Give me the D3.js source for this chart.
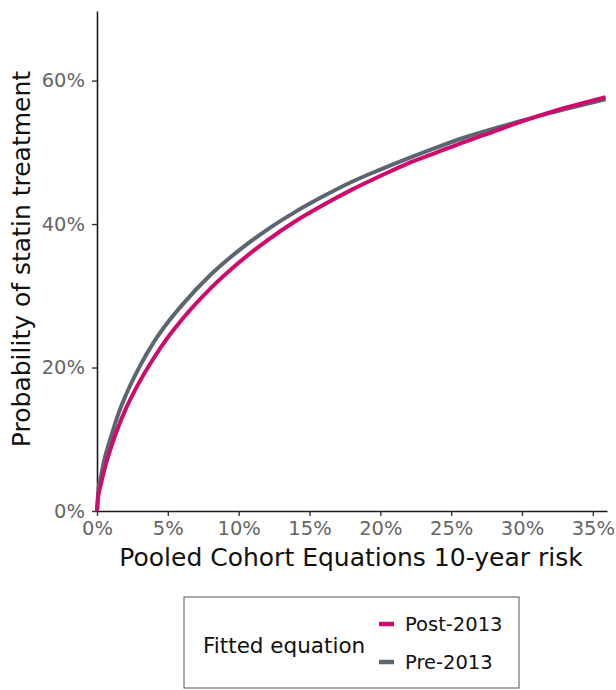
<!DOCTYPE html>
<html><head><meta charset="utf-8">
<script src="https://cdn.jsdelivr.net/npm/d3@7"></script>
<style>body{margin:0;background:#fff}svg{display:block}text{font-family:"DejaVu Sans",sans-serif}</style>
</head><body>
<svg id="c" width="616" height="690"></svg>
<script>
const riskPct = [0, 0.1, 0.25, 0.5, 1, 1.5, 2, 3, 4, 5, 6, 8, 10, 12, 14, 16, 18, 20, 22, 24, 26, 28, 30, 32, 34, 35.9];
const post2013 = [0, 0.022, 0.035, 0.056, 0.089, 0.117, 0.141, 0.180, 0.213, 0.242, 0.267, 0.310, 0.346, 0.377, 0.404, 0.427, 0.448, 0.467, 0.485, 0.500, 0.515, 0.529, 0.543, 0.556, 0.567, 0.577];
const pre2013  = [0, 0.030, 0.045, 0.070, 0.104, 0.135, 0.160, 0.201, 0.235, 0.263, 0.287, 0.329, 0.363, 0.392, 0.417, 0.439, 0.459, 0.476, 0.492, 0.507, 0.521, 0.533, 0.544, 0.555, 0.565, 0.574];
const xTicks = [0, 5, 10, 15, 20, 25, 30, 35];
const yTicks = [0, 20, 40, 60];
const seriesNames = ["Post-2013", "Pre-2013"];
const seriesColors = ["#cf0a6c", "#5b6670"];

const svg = d3.select("#c");
const x = d3.scaleLinear().domain([0, 36]).range([97, 607]);
const y = d3.scaleLinear().domain([0, 69.7]).range([511, 11]);

const gx = svg.append("g").attr("transform", "translate(0,511)")
  .call(d3.axisBottom(x).tickValues(xTicks).tickFormat(d => d + "%").tickSize(5).tickSizeOuter(0));
const gy = svg.append("g").attr("transform", "translate(97,0)")
  .call(d3.axisLeft(y).tickValues(yTicks).tickFormat(d => d + "%").tickSize(5).tickSizeOuter(0));
[gx, gy].forEach(g => {
  g.select(".domain").attr("stroke", "#1a1a1a").attr("stroke-width", 1.6);
  g.selectAll(".tick line").attr("stroke", "#333").attr("stroke-width", 1.4);
  g.selectAll(".tick text").attr("fill", "#666").attr("font-size", 19.5);
});
gx.selectAll(".tick text").attr("dy", "0.9em").attr("y", 6);
gy.selectAll(".tick text").attr("x", -12);

const line = d3.line().x(d => x(d[0])).y(d => y(d[1] * 100)).curve(d3.curveMonotoneX);
const data = [post2013, pre2013];
[1, 0].forEach(i => {
  svg.append("path").datum(riskPct.map((r, j) => [r, data[i][j]]))
    .attr("d", line).attr("fill", "none").attr("stroke", seriesColors[i])
    .attr("stroke-width", 4).attr("stroke-linecap", "butt");
});

svg.append("text").attr("x", 351).attr("y", 566).attr("text-anchor", "middle")
  .attr("font-size", 25).attr("fill", "#111").text("Pooled Cohort Equations 10-year risk");
svg.append("text").attr("transform", "translate(30,259) rotate(-90)").attr("text-anchor", "middle")
  .attr("font-size", 25).attr("fill", "#111").text("Probability of statin treatment");

const lg = svg.append("g");
lg.append("rect").attr("x", 184).attr("y", 597).attr("width", 335).attr("height", 91)
  .attr("fill", "#fff").attr("stroke", "#555").attr("stroke-width", 1);
lg.append("text").attr("x", 203).attr("y", 653).attr("font-size", 21.5).attr("fill", "#111").text("Fitted equation");
seriesNames.forEach((n, i) => {
  const yy = 624 + i * 38;
  lg.append("line").attr("x1", 379).attr("x2", 394).attr("y1", yy).attr("y2", yy)
    .attr("stroke", seriesColors[i]).attr("stroke-width", 4.5);
  lg.append("text").attr("x", 405).attr("y", yy + 7).attr("font-size", 19.5).attr("fill", "#111").text(n);
});
</script>
</body></html>
